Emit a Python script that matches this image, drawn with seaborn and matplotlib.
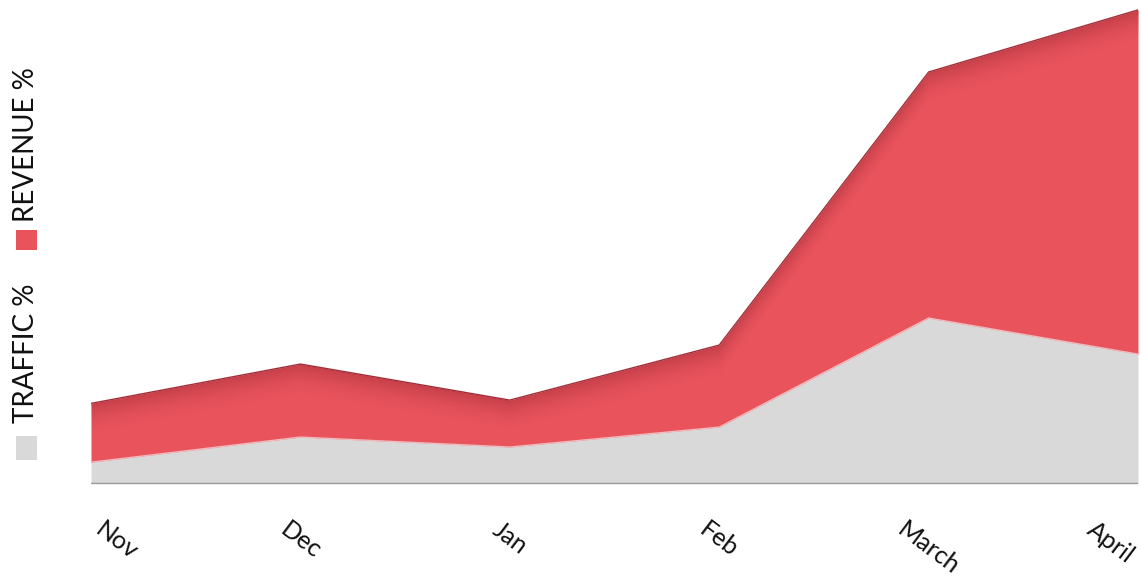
"""Stacked area: traffic % vs revenue % per month."""

import numpy as np
import matplotlib.pyplot as plt
import seaborn as sns
from matplotlib.patches import Rectangle

MONTHS = ["Nov", "Dec", "Jan", "Feb", "March", "April"]
TRAFFIC = [4.6, 9.9, 7.8, 12.0, 35.0, 27.4]
REVENUE = [12.4, 15.4, 9.9, 17.3, 51.9, 72.6]

RED = "#E8535C"
RED_DARK = "#A42E38"
GREY = "#D9D9D9"

sns.set_theme(style="white")
plt.rcParams["font.family"] = ["Lato", "DejaVu Sans"]

x = np.arange(len(MONTHS))
traffic = np.array(TRAFFIC)
top = traffic + np.array(REVENUE)

fig = plt.figure(figsize=(11.41, 5.78), dpi=100)
ax = fig.add_axes([91 / 1141, 1 - 484 / 578, (1138 - 91) / 1141, 476 / 578])

ax.fill_between(x, 0, traffic, color=GREY, lw=0)
ax.fill_between(x, traffic, top, color=RED, lw=0)

# darker shaded band along the top edge of the revenue area
n = 20
for i in range(n):
    a = 0.5 * (1 - i / n) ** 1.8
    ax.fill_between(x, top - (i + 1) * 0.3, top - i * 0.3,
                    color=RED_DARK, alpha=a, lw=0)
sns.lineplot(x=x, y=top, ax=ax, color=RED_DARK, lw=1.0)

# faint highlight on traffic edge
sns.lineplot(x=x, y=traffic, ax=ax, color="#F1B9BC", lw=1.0)

ax.axhline(0, color="#9A9A9A", lw=2.5)

ax.set_xlim(0, len(MONTHS) - 1)
ax.set_ylim(0, 100.4)
ax.set_yticks([])
ax.set_xticks(x)
ax.set_xticklabels(MONTHS, rotation=-37, fontsize=18, color="#111111")
ax.tick_params(axis="x", length=0, pad=24)
labels = ax.get_xticklabels()
for lab in labels:
    lab.set_va("top")
    lab.set_ha("center")
labels[0].set_ha("left")
labels[-1].set_ha("right")
for s in ax.spines.values():
    s.set_visible(False)

# vertical legend on the left
fig.patches.append(Rectangle((16 / 1141, 1 - 460 / 578), 21 / 1141, 24 / 578,
                             transform=fig.transFigure, color=GREY, lw=0))
fig.text(26 / 1141, 1 - 423 / 578, "TRAFFIC %", rotation=90, ha="center",
         va="bottom", fontsize=20, color="#111111")
fig.patches.append(Rectangle((16 / 1141, 1 - 250 / 578), 21 / 1141, 20 / 578,
                             transform=fig.transFigure, color=RED, lw=0))
fig.text(26 / 1141, 1 - 222 / 578, "REVENUE %", rotation=90, ha="center",
         va="bottom", fontsize=20, color="#111111")

fig.savefig("out.png", dpi=100)
